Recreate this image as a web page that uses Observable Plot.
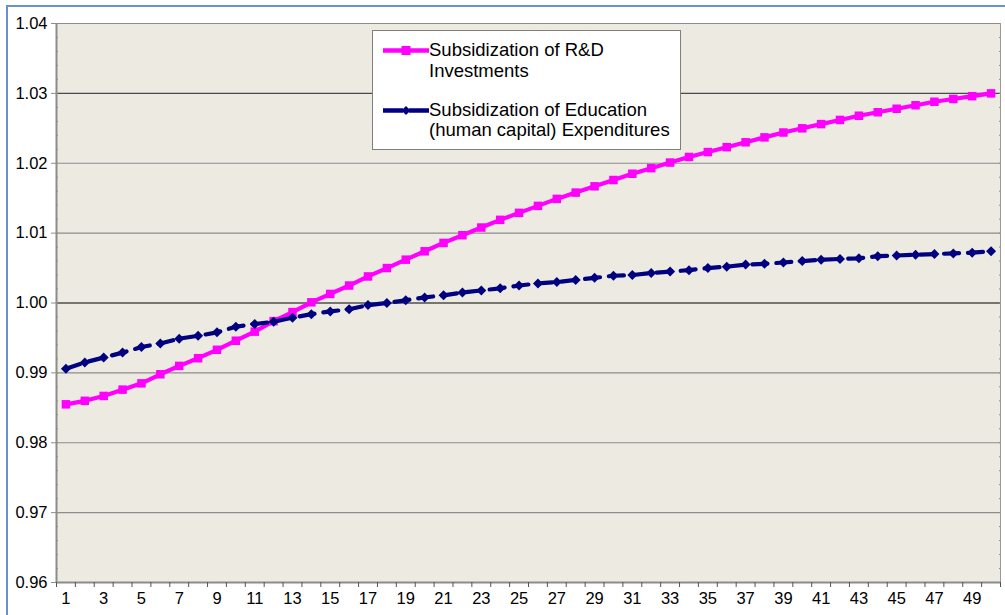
<!DOCTYPE html>
<html><head><meta charset="utf-8">
<script src="https://cdn.jsdelivr.net/npm/d3@7"></script>
<script src="https://cdn.jsdelivr.net/npm/@observablehq/plot@0.6"></script>
<style>
body{margin:0;background:#fff;}
#wrap{position:relative;width:1005px;height:615px;overflow:hidden;font-family:"Liberation Sans",Arial,sans-serif;}
#chart{position:absolute;left:0;top:0;}
#chart svg text{font-size:16.5px !important;font-family:"Liberation Sans",Arial,sans-serif !important;}
#border{position:absolute;left:6px;top:5px;width:1100px;height:700px;border-left:2px solid #6792cf;border-top:2px solid #6792cf;pointer-events:none;}
#legend{position:absolute;left:372px;top:30px;width:309px;height:120px;background:#fff;border:1px solid #7f7f7f;box-sizing:border-box;font-size:18.5px;color:#000;}
.item{position:absolute;left:0;width:100%;}
.item svg{position:absolute;left:10px;}
.item .txt{position:absolute;left:56px;line-height:20.5px;white-space:nowrap;}
</style>
</head><body>
<div id="wrap">
  <div id="chart"></div>
  <div id="border"></div>
  <div id="legend">
    <div class="item" style="top:0">
      <svg width="48" height="40" style="top:0"><line x1="0" y1="19.5" x2="46" y2="19.5" stroke="#ff00ff" stroke-width="4.5"/><rect x="18.5" y="15" width="9" height="9" fill="#ff00ff"/></svg>
      <div class="txt" style="top:9px">Subsidization of R&amp;D<br>Investments</div>
    </div>
    <div class="item" style="top:60px">
      <svg width="48" height="40" style="top:0"><line x1="0" y1="19.5" x2="46" y2="19.5" stroke="#000080" stroke-width="4.5" stroke-dasharray="20,6"/><path d="M23,15 L27.5,19.5 L23,24 L18.5,19.5 Z" fill="#000080"/></svg>
      <div class="txt" style="top:8.5px">Subsidization of Education<br>(human capital) Expenditures</div>
    </div>
  </div>
</div>
<script>
const periods = [1,2,3,4,5,6,7,8,9,10,11,12,13,14,15,16,17,18,19,20,21,22,23,24,25,26,27,28,29,30,31,32,33,34,35,36,37,38,39,40,41,42,43,44,45,46,47,48,49,50];
const rdSubsidy = [0.9855,0.9860,0.9867,0.9876,0.9885,0.9898,0.9910,0.9921,0.9933,0.9946,0.9959,0.9974,0.9987,1.0001,1.0013,1.0025,1.0038,1.0050,1.0062,1.0074,1.0086,1.0097,1.0108,1.0119,1.0129,1.0139,1.0149,1.0158,1.0167,1.0176,1.0185,1.0193,1.0201,1.0209,1.0216,1.0223,1.0230,1.0237,1.0244,1.0250,1.0256,1.0262,1.0268,1.0273,1.0278,1.0283,1.0288,1.0292,1.0296,1.0300];
const eduSubsidy = [0.9906,0.9915,0.9922,0.9929,0.9937,0.9942,0.9949,0.9953,0.9958,0.9966,0.9970,0.9973,0.9979,0.9984,0.9988,0.9991,0.9997,1.0000,1.0004,1.0008,1.0011,1.0015,1.0018,1.0021,1.0025,1.0028,1.0030,1.0033,1.0036,1.0039,1.0040,1.0043,1.0045,1.0047,1.0050,1.0052,1.0055,1.0056,1.0058,1.0060,1.0062,1.0063,1.0064,1.0067,1.0068,1.0069,1.0070,1.0071,1.0072,1.0074];
const xTickLabels = [1,3,5,7,9,11,13,15,17,19,21,23,25,27,29,31,33,35,37,39,41,43,45,47,49];
const yTicks = [0.96,0.97,0.98,0.99,1.00,1.01,1.02,1.03,1.04];

const rd = periods.map((p,i)=>({p, v: rdSubsidy[i]}));
const edu = periods.map((p,i)=>({p, v: eduSubsidy[i]}));
const bounds = d3.range(periods.length + 1).map(i => periods[0] - 0.5 + i);
const minorY = d3.range(0, 41).map(i => 0.96 + i*0.002);
const gridColor = v => Math.abs(v-1) < 1e-9 ? "#000" : (Math.abs(v-1.03) < 1e-9 ? "#4a4a4a" : "#8c8c8c");

const chart = Plot.plot({
  width: 1005, height: 615,
  marginLeft: 56, marginRight: 5, marginTop: 23, marginBottom: 33,
  style: {fontFamily: '"Liberation Sans", Arial, sans-serif', fontSize: "16.5px", color: "#000", background: "transparent"},
  x: {type: "linear", domain: [0.5, 50.5], axis: null},
  y: {type: "linear", domain: [0.96, 1.04], axis: null},
  marks: [
    Plot.frame({fill: "#edebe1", stroke: null}),
    Plot.ruleY(yTicks.filter(v => v > 0.96 && v < 1.04), {y: d => d, stroke: gridColor, strokeWidth: 1.2}),
    Plot.ruleY([1.04], {stroke: "#8c8c8c", strokeWidth: 1}),
    Plot.axisY(minorY, {anchor: "left", tickSize: -2, tickFormat: () => "", stroke: "#8c8c8c", label: null}),
    Plot.axisY(minorY, {anchor: "right", tickSize: -2, tickFormat: () => "", stroke: "#8c8c8c", label: null}),
    Plot.ruleX([0.5], {stroke: "#8c8c8c", strokeWidth: 2}),
    Plot.ruleX([50.5], {stroke: "#9a9a9a", strokeWidth: 1}),
    Plot.ruleY([0.96], {stroke: "#8c8c8c", strokeWidth: 2}),
    Plot.axisY(yTicks, {anchor: "left", tickSize: 5, tickPadding: 4, stroke: "#8c8c8c", tickFormat: d => d.toFixed(2), fill: "#000", label: null}),
    Plot.axisX(bounds, {anchor: "bottom", tickSize: 5, tickFormat: () => "", stroke: "#555", label: null}),
    Plot.axisX(xTickLabels, {anchor: "bottom", tickSize: 0, tickPadding: 10, fill: "#000", tickFormat: d => String(d), label: null}),
    Plot.line(rd, {x: "p", y: "v", stroke: "#ff00ff", strokeWidth: 4.2, curve: "linear"}),
    Plot.dot(rd, {x: "p", y: "v", symbol: "square", r: 4.8, fill: "#ff00ff", stroke: null}),
    Plot.line(edu, {x: "p", y: "v", stroke: "#000080", strokeWidth: 4.2, strokeDasharray: "15,9"}),
    Plot.dot(edu, {x: "p", y: "v", symbol: "diamond2", r: 4.5, fill: "#000080", stroke: null})
  ]
});
document.getElementById("chart").appendChild(chart);
</script>
</body></html>
